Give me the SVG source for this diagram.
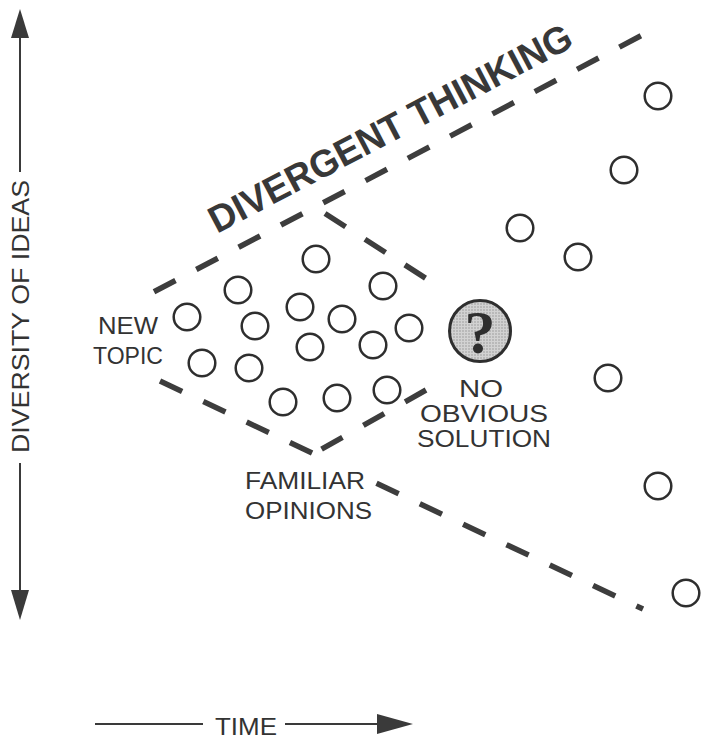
<svg xmlns="http://www.w3.org/2000/svg" width="705" height="745" viewBox="0 0 705 745">
  <defs>
    <style>
      .dash { fill: none; stroke: #3d3d3d; stroke-width: 5.5; stroke-linecap: butt; }
      .idea { fill: none; stroke: #2e2e2e; stroke-width: 2.5; }
      .lbl { font-family: "Liberation Sans", Arial, sans-serif; font-size: 24px; fill: #333; }
      .axis { stroke: #3a3a3a; stroke-width: 2; fill: none; }
      .head { fill: #3a3a3a; }
    </style>
    <pattern id="stip" width="3" height="3" patternUnits="userSpaceOnUse">
      <rect width="3" height="3" fill="#d2d2d2"/>
      <circle cx="1" cy="1" r="0.8" fill="#9a9a9a"/>
    </pattern>
  </defs>
  <rect width="705" height="745" fill="#ffffff"/>

  <!-- axes -->
  <g id="axis-diversity">
    <line class="axis" x1="20" y1="36" x2="20" y2="172"/>
    <line class="axis" x1="20" y1="463" x2="20" y2="592"/>
    <polygon class="head" points="20,9 11,38 29,38"/>
    <polygon class="head" points="20,620 11,590 29,590"/>
    <text class="lbl" transform="translate(29,453) rotate(-90)" textLength="273" lengthAdjust="spacingAndGlyphs">DIVERSITY OF IDEAS</text>
  </g>
  <g id="axis-time">
    <line class="axis" x1="95" y1="724" x2="203" y2="724"/>
    <line class="axis" x1="285" y1="724" x2="380" y2="724"/>
    <polygon class="head" points="377,714 413,724 377,734"/>
    <text class="lbl" x="215" y="735" textLength="62" lengthAdjust="spacingAndGlyphs">TIME</text>
  </g>

  <!-- connectors: dashed boundary lines -->
  <g id="connectors">
    <path class="dash" d="M154,291.8 L641,35.7" stroke-dasharray="24.3 23.5"/>
    <path class="dash" d="M160,381.1 L313,453.4" stroke-dasharray="24.5 23.4"/>
    <path class="dash" d="M376.5,483.3 L643,609.1" stroke-dasharray="24.5 23.4"/>
    <path class="dash" d="M325,213.5 L426,278.5" stroke-dasharray="24.5 23"/>
    <path class="dash" d="M426,390 L320,450" stroke-dasharray="24 24"/>
  </g>

  <!-- title -->
  <g id="title">
    <text font-family="'Liberation Sans', Arial, sans-serif" font-weight="bold" font-size="38" fill="#383838" transform="translate(217,234) rotate(-27.7)" textLength="405" lengthAdjust="spacingAndGlyphs">DIVERGENT THINKING</text>
  </g>

  <!-- familiar ideas -->
  <g id="familiar-ideas">
    <circle class="idea" cx="316" cy="259" r="13.3"/>
    <circle class="idea" cx="238" cy="290" r="13.3"/>
    <circle class="idea" cx="187" cy="317" r="13.3"/>
    <circle class="idea" cx="383" cy="286" r="13.3"/>
    <circle class="idea" cx="300" cy="307" r="13.3"/>
    <circle class="idea" cx="255" cy="326" r="13.3"/>
    <circle class="idea" cx="342" cy="319" r="13.3"/>
    <circle class="idea" cx="409" cy="328" r="13.3"/>
    <circle class="idea" cx="310" cy="347" r="13.3"/>
    <circle class="idea" cx="373" cy="345" r="13.3"/>
    <circle class="idea" cx="202" cy="363" r="13.3"/>
    <circle class="idea" cx="249" cy="368" r="13.3"/>
    <circle class="idea" cx="283" cy="402" r="13.3"/>
    <circle class="idea" cx="337" cy="398" r="13.3"/>
    <circle class="idea" cx="387" cy="390" r="13.3"/>
  </g>

  <!-- divergent ideas -->
  <g id="divergent-ideas">
    <circle class="idea" cx="520" cy="228" r="13.3"/>
    <circle class="idea" cx="578" cy="257" r="13.3"/>
    <circle class="idea" cx="624" cy="170" r="13.3"/>
    <circle class="idea" cx="658" cy="96" r="13.3"/>
    <circle class="idea" cx="608" cy="378" r="13.3"/>
    <circle class="idea" cx="658" cy="486" r="13.3"/>
    <circle class="idea" cx="686" cy="593" r="13.3"/>
  </g>

  <!-- no obvious solution -->
  <g id="no-obvious-solution">
    <circle cx="480" cy="331" r="30.5" fill="url(#stip)" stroke="#2e2e2e" stroke-width="3"/>
    <text x="480" y="353" text-anchor="middle" font-family="'Liberation Serif', 'Times New Roman', serif" font-weight="bold" font-size="62" fill="#2e2e2e">?</text>
    <text class="lbl" x="481" y="397" text-anchor="middle" textLength="44" lengthAdjust="spacingAndGlyphs">NO</text>
    <text class="lbl" x="484" y="422" text-anchor="middle" textLength="128" lengthAdjust="spacingAndGlyphs">OBVIOUS</text>
    <text class="lbl" x="484" y="447" text-anchor="middle" textLength="134" lengthAdjust="spacingAndGlyphs">SOLUTION</text>
  </g>

  <!-- new topic -->
  <g id="new-topic">
    <text class="lbl" x="98" y="334" textLength="60" lengthAdjust="spacingAndGlyphs">NEW</text>
    <text class="lbl" x="93" y="364" textLength="70" lengthAdjust="spacingAndGlyphs">TOPIC</text>
  </g>

  <!-- familiar opinions -->
  <g id="familiar-opinions">
    <text class="lbl" x="245" y="489" textLength="120" lengthAdjust="spacingAndGlyphs">FAMILIAR</text>
    <text class="lbl" x="245" y="519" textLength="127" lengthAdjust="spacingAndGlyphs">OPINIONS</text>
  </g>
</svg>
